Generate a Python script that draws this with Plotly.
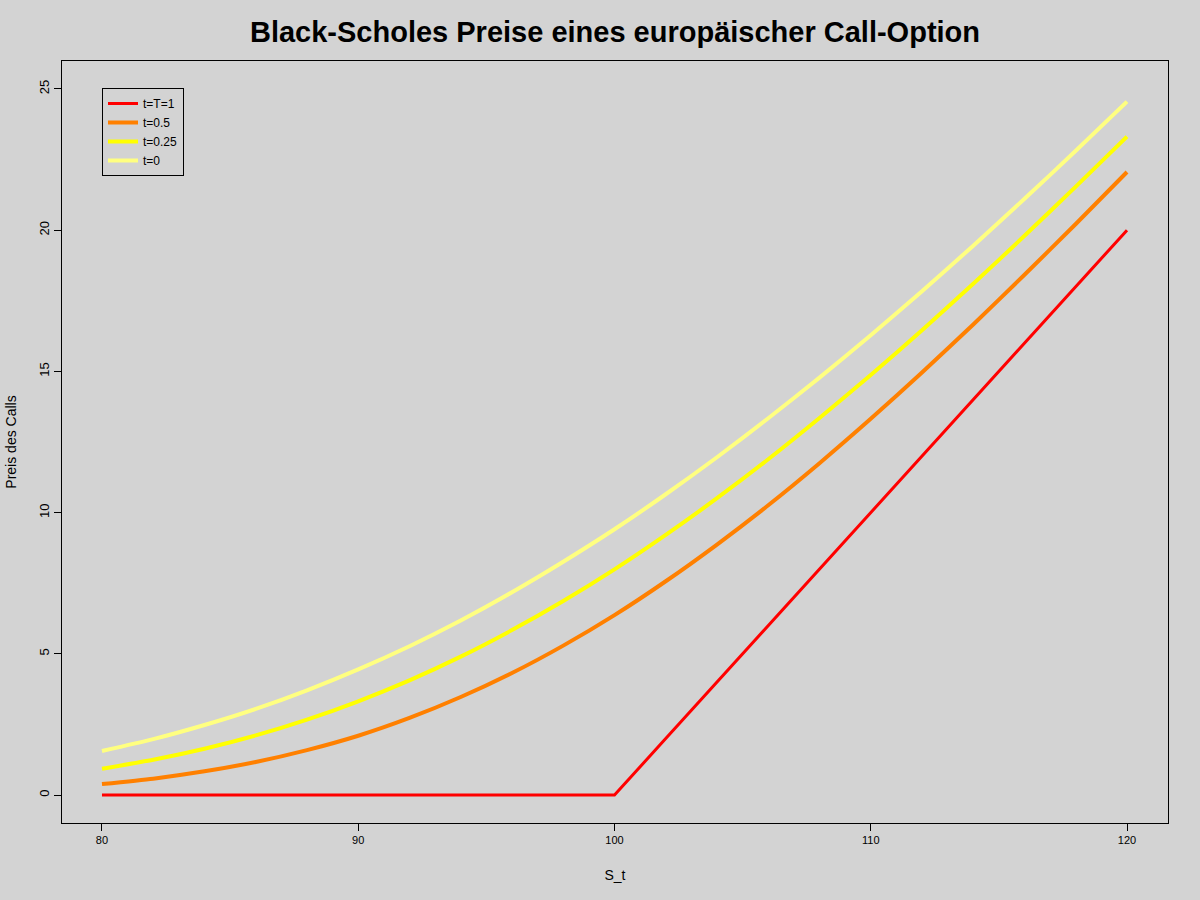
import plotly.graph_objects as go

S = [80, 82, 84, 86, 88, 90, 92, 94, 96, 98, 100, 102, 104, 106, 108, 110, 112, 114, 116, 118, 120]

call_t1 = [0, 0, 0, 0, 0, 0, 0, 0, 0, 0, 0, 2, 4, 6, 8, 10, 12, 14, 16, 18, 20]
call_t05 = [0.39, 0.58, 0.84, 1.17, 1.59, 2.10, 2.73, 3.47, 4.32, 5.29, 6.37,
            7.57, 8.87, 10.26, 11.75, 13.32, 14.96, 16.66, 18.42, 20.22, 22.06]
call_t025 = [0.93, 1.25, 1.64, 2.11, 2.67, 3.32, 4.06, 4.90, 5.84, 6.87, 7.99,
             9.21, 10.51, 11.89, 13.35, 14.87, 16.46, 18.10, 19.80, 21.54, 23.31]
call_t0 = [1.56, 1.98, 2.48, 3.05, 3.71, 4.45, 5.27, 6.18, 7.18, 8.26, 9.41,
           10.65, 11.96, 13.34, 14.78, 16.28, 17.84, 19.45, 21.11, 22.81, 24.55]

series_names = ["t=T=1", "t=0.5", "t=0.25", "t=0"]
series_colors = ["#FF0000", "#FF8000", "#FFFF00", "#FFFF80"]
series_widths = [3, 4, 4, 4]
series_shapes = ["linear", "spline", "spline", "spline"]
series_values = [call_t1, call_t05, call_t025, call_t0]

x_ticks = [80, 90, 100, 110, 120]
y_ticks = [0, 5, 10, 15, 20, 25]

fig = go.Figure()
for name, col, w, shp, vals in zip(series_names, series_colors, series_widths, series_shapes, series_values):
    line = dict(color=col, width=w, shape=shp)
    if shp == "spline":
        line["smoothing"] = 0.6
    fig.add_trace(go.Scatter(x=S, y=vals, mode="lines", name=name, line=line))

font_family = "Liberation Sans, Arial, sans-serif"

fig.update_layout(
    width=1200, height=900,
    paper_bgcolor="#D3D3D3", plot_bgcolor="#D3D3D3",
    margin=dict(l=62, r=32, t=61, b=77),
    font=dict(family=font_family, color="black"),
    title=dict(text="<b>Black-Scholes Preise eines europäischer Call-Option</b>",
               x=(62 + 1168) / 2 / 1200, xanchor="center", y=1 - 32 / 900, yanchor="middle",
               font=dict(size=29, family=font_family, color="black")),
    showlegend=True,
    legend=dict(x=(102 - 62) / 1106, y=1 - (88 - 61) / 762, xanchor="left", yanchor="top",
                bgcolor="#D3D3D3", bordercolor="black", borderwidth=1,
                font=dict(size=12, family=font_family, color="black"),
                tracegroupgap=0, itemwidth=30),
    hovermode=False,
)

fig.update_xaxes(
    range=[78.44, 121.6], tickvals=x_ticks, ticktext=[str(v) for v in x_ticks],
    showgrid=False, zeroline=False, showline=True, mirror=True, linecolor="black", linewidth=1,
    ticks="outside", ticklen=7, tickcolor="black", tickwidth=1,
    tickfont=dict(size=11, family="Liberation Sans Narrow, " + font_family),
    title=dict(text="S_t", font=dict(size=14), standoff=24),
)
fig.update_yaxes(
    range=[-0.99, 25.99], tickvals=y_ticks, ticktext=[str(v) for v in y_ticks],
    showgrid=False, zeroline=False, showline=True, mirror=True, linecolor="black", linewidth=1,
    ticks="outside", ticklen=7, tickcolor="black", tickwidth=1, tickangle=-90,
    tickfont=dict(size=13),
    title=dict(text="Preis des Calls", font=dict(size=14), standoff=16),
)

fig.write_html("out.html")
